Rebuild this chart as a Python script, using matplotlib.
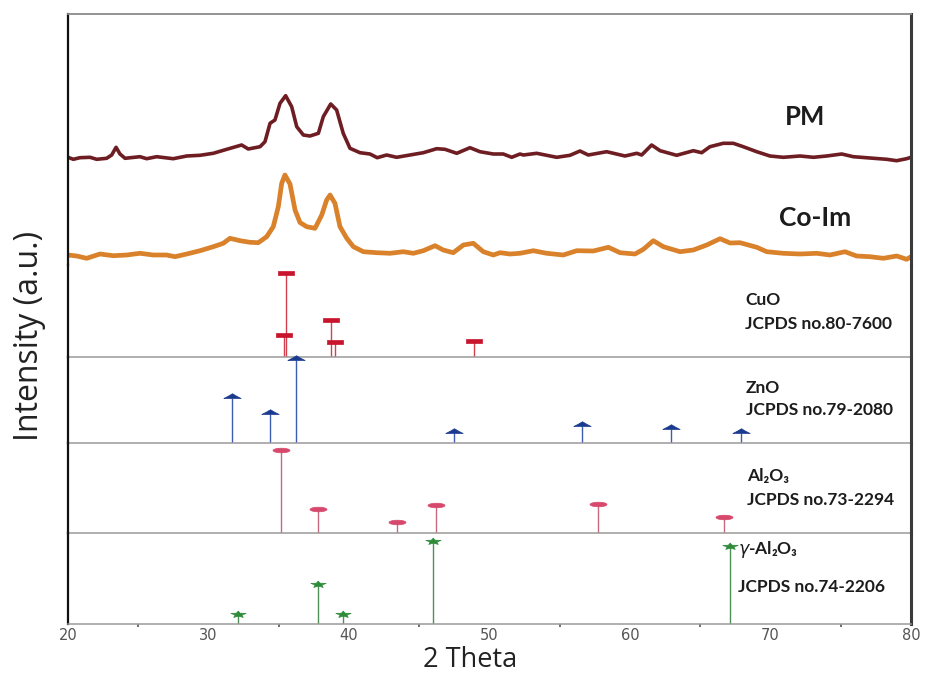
import matplotlib
matplotlib.use("Agg")
import matplotlib.pyplot as plt
import numpy as np
from matplotlib.path import Path

# ---------------- data ----------------
pm_2theta = [20.0, 20.38, 20.85, 21.57, 22.04, 22.75, 23.11, 23.42, 23.70, 24.06,
             25.12, 25.60, 26.31, 27.49, 28.45, 29.40, 30.34, 31.30, 32.36, 32.83,
             33.67, 34.02, 34.38, 34.73, 35.09, 35.49, 35.92, 36.28, 36.75, 37.22,
             37.82, 38.17, 38.70, 39.12, 39.59, 40.07, 40.78, 41.49, 42.01, 42.68,
             43.39, 44.34, 45.29, 46.24, 46.83, 47.67, 48.61, 49.32, 50.27, 50.98,
             51.58, 52.17, 52.41, 53.36, 54.78, 55.73, 56.44, 57.03, 58.34, 59.64,
             60.48, 60.83, 61.54, 62.14, 63.32, 64.51, 65.10, 65.69, 66.64, 67.35,
             68.06, 69.02, 69.96, 70.91, 72.10, 73.05, 74.00, 75.07, 75.89, 77.08,
             78.27, 78.98, 79.69, 80.0]
pm_int = [4.7, 2.7, 4.3, 4.7, 2.7, 3.7, 7.0, 14.7, 8.0, 3.7,
          5.3, 3.3, 5.3, 3.3, 6.0, 6.7, 8.7, 12.7, 17.0, 13.0,
          15.3, 20.3, 38.7, 42.0, 58.7, 66.3, 55.3, 35.3, 27.0, 26.0,
          28.7, 45.3, 58.0, 52.0, 28.7, 13.7, 9.3, 8.0, 4.3, 7.0,
          4.7, 7.0, 9.3, 13.3, 12.7, 8.7, 14.3, 10.3, 8.0, 8.0,
          4.7, 8.0, 7.0, 8.7, 4.7, 6.7, 11.0, 7.0, 10.3, 6.0,
          8.7, 7.0, 17.0, 11.3, 6.7, 11.3, 9.3, 15.3, 18.7, 18.7,
          15.3, 10.3, 6.0, 4.7, 6.0, 4.7, 6.0, 8.0, 5.3, 4.0,
          2.7, 1.3, 3.3, 4.7]

coim_2theta = [20.0, 20.62, 21.33, 22.28, 23.22, 24.18, 25.12, 26.07, 27.02, 27.62,
               28.45, 29.40, 30.34, 31.05, 31.53, 32.24, 32.95, 33.54, 34.14, 34.61,
               34.97, 35.21, 35.44, 35.80, 36.16, 36.51, 36.99, 37.58, 38.06, 38.41,
               38.65, 39.00, 39.36, 39.84, 40.31, 41.02, 41.97, 42.92, 43.87, 44.58,
               45.29, 46.12, 46.71, 47.42, 48.14, 48.85, 49.56, 50.27, 50.75, 51.46,
               52.17, 53.12, 54.07, 55.25, 56.21, 57.39, 58.46, 59.29, 60.36, 60.95,
               61.66, 62.37, 63.56, 64.51, 65.46, 66.41, 67.12, 67.83, 69.02, 69.73,
               70.91, 72.10, 73.29, 74.23, 75.30, 76.13, 77.08, 78.03, 78.98, 79.69,
               80.0]
coim_int = [7.0, 6.0, 3.7, 8.0, 6.3, 7.0, 8.7, 7.0, 7.0, 5.3,
            8.0, 11.3, 15.3, 18.7, 23.7, 21.3, 19.7, 19.3, 25.3, 35.3,
            55.3, 78.7, 87.0, 78.0, 52.0, 39.5, 35.3, 33.7, 47.0, 62.0,
            67.0, 58.7, 35.3, 23.7, 15.3, 10.3, 9.3, 8.7, 10.3, 8.7,
            11.3, 16.3, 12.0, 9.3, 17.0, 18.7, 10.3, 7.0, 9.3, 8.0,
            8.7, 11.3, 8.7, 7.0, 11.3, 11.0, 14.7, 9.3, 8.0, 12.7,
            21.3, 15.3, 10.3, 12.0, 17.0, 23.3, 19.0, 19.3, 14.7, 10.3,
            8.7, 8.0, 8.7, 7.0, 10.3, 6.0, 5.3, 3.7, 6.0, 2.7,
            5.3]

cuo_2theta = [35.38, 35.55, 38.70, 39.00, 48.90]
cuo_int = [26, 100, 44, 17, 19]

zno_2theta = [31.67, 34.40, 36.20, 47.50, 56.56, 62.90, 67.90]
zno_int = [54, 35, 100, 12, 20, 16, 11]

al2o3_2theta = [35.18, 37.80, 43.40, 46.20, 57.70, 66.67]
al2o3_int = [100, 29, 13, 34, 35, 19]

gal2o3_2theta = [32.08, 37.77, 39.55, 46.00, 67.10]
gal2o3_int = [11, 47, 12, 100, 93]

x_ticks = [20, 30, 40, 50, 60, 70, 80]
x_minor = [25, 35, 45, 55, 65, 75]

# ---------------- layout helpers ----------------
W, H = 927, 673
fig = plt.figure(figsize=(W / 100, H / 100), dpi=100)
fig.patch.set_facecolor("white")

def fx(px):
    return px / W

def fy(py):
    return 1 - py / H

LEFT, RIGHT = 68, 911

def add_ax(top, bottom):
    return fig.add_axes([fx(LEFT), fy(bottom), fx(RIGHT) - fx(LEFT), fy(top) - fy(bottom)])

LEFT_COL = "#111111"
RIGHT_COL = "#3a3a3a"
DIV_COL = "#9a9a9a"

def style_spines(ax, top=False, bottom=True):
    ax.spines["left"].set_color(LEFT_COL)
    ax.spines["left"].set_linewidth(1.6)
    ax.spines["right"].set_color(RIGHT_COL)
    ax.spines["right"].set_linewidth(2.2)
    ax.spines["top"].set_visible(top)
    ax.spines["top"].set_color("#8a8a8a")
    ax.spines["top"].set_linewidth(1.3)
    ax.spines["bottom"].set_visible(bottom)
    ax.spines["bottom"].set_color(DIV_COL)
    ax.spines["bottom"].set_linewidth(1.1)
    ax.set_yticks([])
    ax.set_xlim(20, 80)
    ax.patch.set_alpha(0)

# ---------------- top panel: measured patterns ----------------
ax0 = add_ax(14, 265)
style_spines(ax0, top=True, bottom=False)
ax0.set_ylim(0, 251)
ax0.set_xticks([])
ax0.plot(coim_2theta, np.array(coim_int) + 3, color="#D9822B", lw=3.4,
         solid_joinstyle="round", solid_capstyle="round")
ax0.plot(pm_2theta, np.array(pm_int) + 103, color="#6E1E22", lw=2.6,
         solid_joinstyle="round", solid_capstyle="round")

fig.text(fx(805), fy(117), "PM", fontsize=18.5, fontweight="bold",
         family=["Lato", "DejaVu Sans"], color="#1c1c1c", ha="center", va="center")
fig.text(fx(815), fy(218), "Co-Im", fontsize=19, fontweight="bold",
         family=["Lato", "DejaVu Sans"], color="#1c1c1c", ha="center", va="center")

# ---------------- marker shapes ----------------
rect_marker = Path([(-1, -0.2), (1, -0.2), (1, 0.2), (-1, 0.2), (-1, -0.2)])
tent_marker = Path([(-1, 0.0), (1, 0.0), (0.45, 0.28), (0.0, 0.55), (-0.45, 0.28), (-1, 0.0)])
circ = Path.unit_circle()
ell_marker = Path(circ.vertices * np.array([1.0, 0.27]), circ.codes)
ang = np.pi / 2 + np.arange(10) * np.pi / 5
rad = np.where(np.arange(10) % 2 == 0, 1.0, 0.45)
star_marker = Path(np.column_stack([rad * np.cos(ang), 0.45 * rad * np.sin(ang)]), closed=False)

panels = [
    (265, 356.7, 109, cuo_2theta, cuo_int, "#C8142C", "#D0404E", rect_marker, 12.2),
    (356.7, 442.5, 104.6, zno_2theta, zno_int, "#1A3A8F", "#3D5DB0", tent_marker, 12.5),
    (442.5, 533.2, 109.3, al2o3_2theta, al2o3_int, "#D6486C", "#C86A80", ell_marker, 12.2),
    (533.2, 623.5, 108.8, gal2o3_2theta, gal2o3_int, "#2E8B3A", "#4E8F58", star_marker, 11.0),
]

axes = []
for top, bottom, ytop, xs, ys, capc, stemc, mk, ms in panels:
    ax = add_ax(top, bottom)
    style_spines(ax, top=False, bottom=True)
    ax.set_ylim(0, ytop)
    ax.vlines(xs, 0, ys, color=stemc, lw=1.0, zorder=2)
    ax.plot(xs, ys, ls="none", marker=mk, ms=ms, color=capc, mec=capc, mew=0.5, zorder=3,
            clip_on=False)
    ax.set_xticks([])
    axes.append(ax)

axb = axes[-1]
axb.set_xticks(x_ticks)
axb.set_xticks(x_minor, minor=True)
axb.tick_params(axis="x", which="major", length=0, pad=3.5, labelsize=10.5, labelcolor="#555555")
axb.tick_params(axis="x", which="minor", length=2, width=1.2, color="#555555")

# phase labels
lab_font = dict(fontsize=12.5, fontweight="bold", family=["Lato", "DejaVu Sans"],
                color="#1c1c1c", ha="left", va="center")
fig.text(fx(745), fy(300), "CuO", **lab_font)
fig.text(fx(745), fy(324), "JCPDS no.80-7600", **lab_font)
fig.text(fx(746), fy(388), "ZnO", **lab_font)
fig.text(fx(746), fy(410), "JCPDS no.79-2080", **lab_font)
fig.text(fx(747), fy(476), "Al₂O₃", **lab_font)
fig.text(fx(747), fy(500), "JCPDS no.73-2294", **lab_font)
fig.text(fx(738), fy(550), r"$\gamma$-Al₂O₃", **lab_font)
fig.text(fx(738), fy(587), "JCPDS no.74-2206", **lab_font)

# axis titles
fig.text(fx(30), fy(336), "Intensity (a.u.)", rotation=90, fontsize=23,
         family=["Open Sans", "DejaVu Sans"], color="#222222", ha="center", va="center")
fig.text(fx(470), fy(660), "2 Theta", fontsize=19.5,
         family=["Open Sans", "DejaVu Sans"], color="#222222", ha="center", va="center")

fig.savefig("out.png", dpi=100, facecolor="white")
